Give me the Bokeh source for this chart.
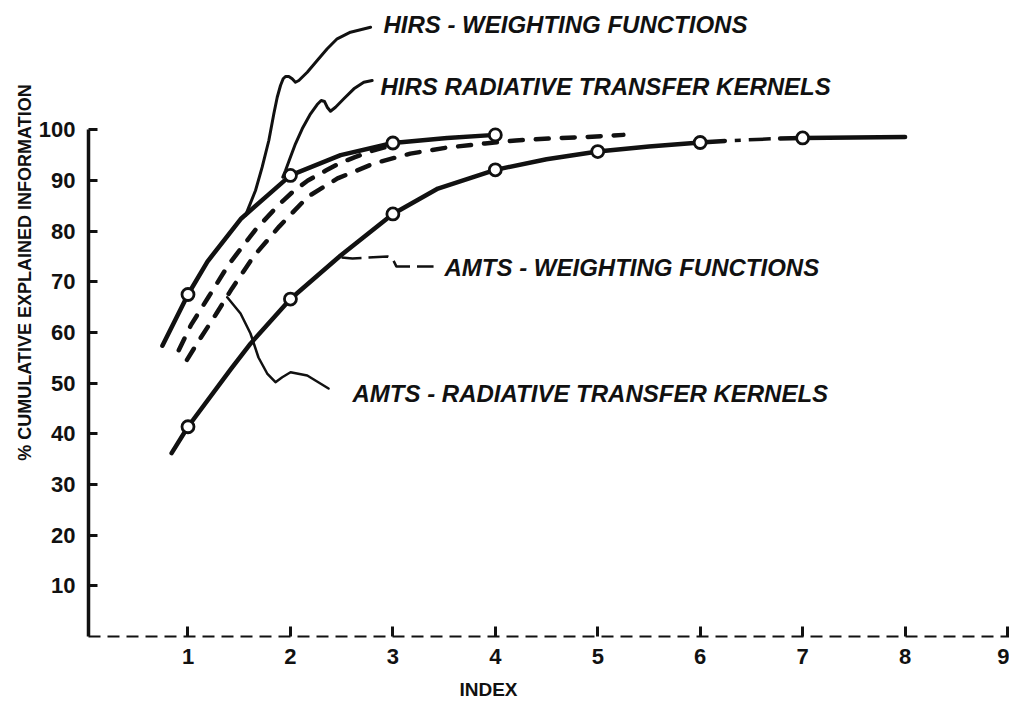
import math
from bokeh.plotting import figure
from bokeh.models import Range1d, FixedTicker, Label
from bokeh.embed import file_html
from bokeh.resources import INLINE

# ---- tick values ----
index_ticks = [1, 2, 3, 4, 5, 6, 7, 8, 9]
value_ticks = [10, 20, 30, 40, 50, 60, 70, 80, 90, 100]

# ---- curves ----
# HIRS weighting functions (upper solid)
hirs_wf_x = [0.75, 1.0, 1.19, 1.52, 1.78, 2.0, 2.49, 3.0, 3.53, 4.0]
hirs_wf_y = [57.4, 67.5, 74.0, 82.5, 87.1, 91.0, 95.0, 97.4, 98.4, 99.0]
hirs_wf_pts_x = [1, 2, 3, 4]
hirs_wf_pts_y = [67.5, 91.0, 97.4, 99.0]

# HIRS radiative transfer kernels (upper dashed)
hirs_rtk_x = [0.91, 1.03, 1.2, 1.4, 1.66, 1.89, 2.03, 2.17, 2.35, 2.49, 2.63, 2.79, 2.95]
hirs_rtk_y = [56.5, 61.5, 67.0, 73.5, 80.3, 85.3, 87.9, 90.0, 92.0, 93.5, 94.6, 95.8, 96.7]

# AMTS radiative transfer kernels (lower dashed)
amts_rtk_x = [0.99, 1.1, 1.27, 1.43, 1.64, 1.89, 2.17, 2.46, 2.82, 3.17, 3.53, 3.9, 4.2, 4.55, 4.9, 5.25]
amts_rtk_y = [54.6, 58.2, 63.5, 68.7, 75.0, 80.9, 86.8, 90.4, 93.4, 95.3, 96.5, 97.3, 97.9, 98.3, 98.6, 99.0]

# AMTS weighting functions (lower solid; dash-dot between ~6.24 and ~6.78)
amts_wf_x = [0.84, 1.0, 1.42, 1.61, 2.0, 2.49, 3.0, 3.44, 4.0, 4.5, 5.0, 5.5, 6.0, 6.24, 6.78, 7.0, 7.5, 8.0]
amts_wf_y = [36.2, 41.4, 52.8, 57.8, 66.6, 75.2, 83.4, 88.4, 92.1, 94.2, 95.7, 96.7, 97.5, 97.8, 98.3, 98.4, 98.5, 98.6]
amts_wf_pts_x = [1, 2, 3, 4, 5, 6, 7]
amts_wf_pts_y = [41.4, 66.6, 83.4, 92.1, 95.7, 97.5, 98.4]

# ---- annotation leader paths (data coordinates) ----
lead_hirs_wf_x = [2.782, 2.586, 2.456, 2.359, 2.261, 2.164, 2.082, 2.049, 2.017, 1.984, 1.952, 1.929,
                  1.903, 1.871, 1.838, 1.789, 1.724, 1.659, 1.594, 1.561]
lead_hirs_wf_y = [120.25, 119.26, 117.96, 115.99, 113.68, 111.37, 109.73, 109.39, 110.07, 110.52, 110.52,
                  110.07, 108.74, 106.43, 103.16, 97.89, 92.62, 88.02, 84.73, 83.09]
lead_hirs_rtk_x = [2.798, 2.716, 2.619, 2.521, 2.440, 2.391, 2.359, 2.333, 2.300, 2.261, 2.196, 2.115,
                   2.049, 1.994, 1.952, 1.925]
lead_hirs_rtk_y = [109.73, 109.39, 108.09, 106.12, 104.46, 103.67, 104.46, 105.58, 105.78, 104.99, 103.16,
                   100.2, 97.24, 94.28, 91.97, 90.65]
lead_amts_wf_x = [2.499, 2.606, 2.948, 2.996, 3.035, 3.397]
lead_amts_wf_y = [74.8, 74.6, 75.0, 74.6, 73.0, 73.0]
lead_amts_rtk_x = [1.383, 1.513, 1.610, 1.688, 1.773, 1.854, 1.920, 2.001, 2.164, 2.372]
lead_amts_rtk_y = [66.96, 63.75, 59.80, 55.06, 51.90, 50.19, 51.17, 52.16, 51.51, 48.94]

labels = ["HIRS - WEIGHTING FUNCTIONS", "HIRS RADIATIVE TRANSFER KERNELS",
          "AMTS - WEIGHTING FUNCTIONS", "AMTS - RADIATIVE TRANSFER KERNELS"]
label_x = [2.908, 2.879, 3.504, 2.606]
label_y = [120.78, 108.55, 72.82, 47.96]

x_title = "INDEX"
y_title = "% CUMULATIVE EXPLAINED INFORMATION"
x_title_pos = (3.933, -10.5)
y_title_pos = (-0.596, 71.84)

p = figure(width=1009, height=704,
           x_range=Range1d(-0.8303, 9.0193), y_range=Range1d(-13.42, 125.52),
           output_backend="svg", toolbar_location=None,
           min_border_left=0, min_border_bottom=0, min_border_top=0, min_border_right=0)
p.grid.visible = False
p.outline_line_color = None
p.background_fill_color = "white"
p.border_fill_color = "white"

INK = "#111111"
TICK_FONT = "Liberation Sans"

# y axis (drawn at the left end of the index scale)
p.yaxis.fixed_location = 0.029
p.yaxis.ticker = FixedTicker(ticks=value_ticks)
p.yaxis.bounds = (0, 100)
p.yaxis.axis_line_width = 3.5
p.yaxis.axis_line_color = INK
p.yaxis.major_tick_in = 9
p.yaxis.major_tick_out = 0
p.yaxis.major_tick_line_width = 3
p.yaxis.major_tick_line_color = INK
p.yaxis.minor_tick_line_color = None
p.yaxis.major_label_standoff = 13
p.yaxis.major_label_text_font = TICK_FONT
p.yaxis.major_label_text_font_style = "bold"
p.yaxis.major_label_text_font_size = "22px"
p.yaxis.major_label_text_color = INK

# x axis (drawn at value 0)
p.xaxis.fixed_location = 0
p.xaxis.ticker = FixedTicker(ticks=index_ticks)
p.xaxis.bounds = (0.029, 9.0193)
p.xaxis.axis_line_width = 2
p.xaxis.axis_line_color = INK
p.xaxis.axis_line_dash = "12 7"
p.xaxis.major_tick_in = 10
p.xaxis.major_tick_out = 0
p.xaxis.major_tick_line_width = 3
p.xaxis.major_tick_line_color = INK
p.xaxis.minor_tick_line_color = None
p.xaxis.major_label_standoff = 12
p.xaxis.major_label_text_font = TICK_FONT
p.xaxis.major_label_text_font_style = "bold"
p.xaxis.major_label_text_font_size = "22px"
p.xaxis.major_label_text_color = INK

# curves
p.line(hirs_wf_x, hirs_wf_y, line_width=4.5, line_color=INK, line_join="round", line_cap="round")
p.line(hirs_rtk_x, hirs_rtk_y, line_width=4.5, line_color=INK, line_dash="13 13", line_cap="round")
p.line(amts_rtk_x, amts_rtk_y, line_width=4.5, line_color=INK, line_dash="13 13", line_cap="round")
k1 = amts_wf_x.index(6.24)
k2 = amts_wf_x.index(6.78)
p.line(amts_wf_x[:k1 + 1], amts_wf_y[:k1 + 1], line_width=4.5, line_color=INK, line_join="round", line_cap="round")
p.line(amts_wf_x[k1:k2 + 1], amts_wf_y[k1:k2 + 1], line_width=3.5, line_color=INK, line_dash="0 10 6 8 22 8")
p.line(amts_wf_x[k2:], amts_wf_y[k2:], line_width=4.5, line_color=INK, line_join="round", line_cap="round")

p.scatter(hirs_wf_pts_x, hirs_wf_pts_y, marker="circle", size=12, fill_color="white", line_color=INK, line_width=2.8)
p.scatter(amts_wf_pts_x, amts_wf_pts_y, marker="circle", size=12, fill_color="white", line_color=INK, line_width=2.8)

# leaders
p.line(lead_hirs_wf_x, lead_hirs_wf_y, line_width=3, line_color=INK, line_join="round", line_cap="round")
p.line(lead_hirs_rtk_x, lead_hirs_rtk_y, line_width=3, line_color=INK, line_join="round", line_cap="round")
p.line(lead_amts_wf_x, lead_amts_wf_y, line_width=2.5, line_color=INK, line_dash="20 7")
p.line(lead_amts_rtk_x, lead_amts_rtk_y, line_width=2.5, line_color=INK, line_join="round", line_cap="round")

for t, lx, ly in zip(labels, label_x, label_y):
    p.add_layout(Label(x=lx, y=ly, text=t, text_font="Liberation Sans", text_font_style="bold italic",
                       text_font_size="24px", text_baseline="middle", text_align="left", text_color=INK))

p.add_layout(Label(x=x_title_pos[0], y=x_title_pos[1], text=x_title, text_font=TICK_FONT,
                   text_font_style="bold", text_font_size="19px", text_baseline="middle",
                   text_align="center", text_color=INK))
p.add_layout(Label(x=y_title_pos[0], y=y_title_pos[1], text=y_title, angle=math.pi / 2,
                   text_font=TICK_FONT, text_font_style="bold", text_font_size="18px",
                   text_baseline="middle", text_align="center", text_color=INK))

open("out.html", "w").write(file_html(p, INLINE))
